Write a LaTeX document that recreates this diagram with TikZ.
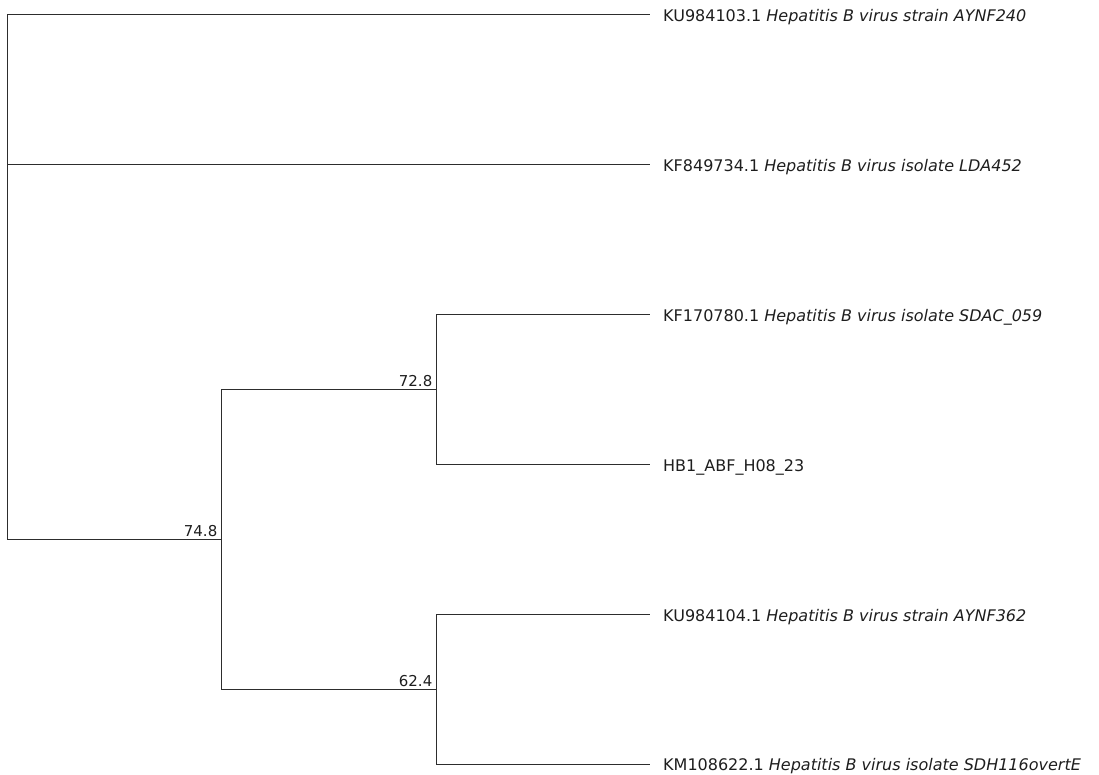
\documentclass[tikz,border=0pt]{standalone}
\usepackage{fontspec}
\setmainfont{DejaVu Sans}
\usepackage{tikz}
\usetikzlibrary{positioning}
\usepackage{xcolor}
\definecolor{treegray}{RGB}{45,45,45}
\definecolor{treetext}{RGB}{30,30,30}
\tikzstyle{branch} = [line width=1.4pt, color=treegray]
\tikzstyle{leaf} = [anchor=base west, inner sep=0pt, yshift=-6.3pt, text=treetext, font=\fontsize{16}{19}\selectfont]
\tikzstyle{support} = [inner sep=0pt, text=treetext, font=\fontsize{15}{18}\selectfont]

\begin{document}
\begin{tikzpicture}[x=1pt, y=-1pt]
\useasboundingbox (0,0) rectangle (1099,774);

% Internal nodes
\coordinate (root) at (7.5,277);
\coordinate (n748) at (221.5,539.5);
\coordinate (n728) at (436.5,389.5);
\coordinate (n624) at (436.5,689.5);

% Leaf tips
\coordinate (tipA) at (650,14.7);
\coordinate (tipB) at (650,164.7);
\coordinate (tipC) at (650,314.7);
\coordinate (tipD) at (650,464.7);
\coordinate (tipE) at (650,614.7);
\coordinate (tipF) at (650,764.2);

% Leaf labels
\node (leafA) [right=13pt of tipA, leaf] {KU984103.1 \textit{Hepatitis B virus strain AYNF240}};
\node (leafB) [right=13pt of tipB, leaf] {KF849734.1 \textit{Hepatitis B virus isolate LDA452}};
\node (leafC) [right=13pt of tipC, leaf] {KF170780.1 \textit{Hepatitis B virus isolate SDAC\_059}};
\node (leafD) [right=13pt of tipD, leaf] {HB1\_ABF\_H08\_23};
\node (leafE) [right=13pt of tipE, leaf] {KU984104.1 \textit{Hepatitis B virus strain AYNF362}};
\node (leafF) [right=13pt of tipF, leaf] {KM108622.1 \textit{Hepatitis B virus isolate SDH116overtE}};

% Support values
\node (sup748) [above left=3pt and 4pt of n748, support] {74.8};
\node (sup728) [above left=3pt and 4pt of n728, support] {72.8};
\node (sup624) [above left=3pt and 4pt of n624, support] {62.4};

% Branches
\draw[branch] (root) |- (tipA);
\draw[branch] (root) |- (tipB);
\draw[branch] (root) |- (n748);
\draw[branch] (n748) |- (n728);
\draw[branch] (n748) |- (n624);
\draw[branch] (n728) |- (tipC);
\draw[branch] (n728) |- (tipD);
\draw[branch] (n624) |- (tipE);
\draw[branch] (n624) |- (tipF);
\end{tikzpicture}
\end{document}
